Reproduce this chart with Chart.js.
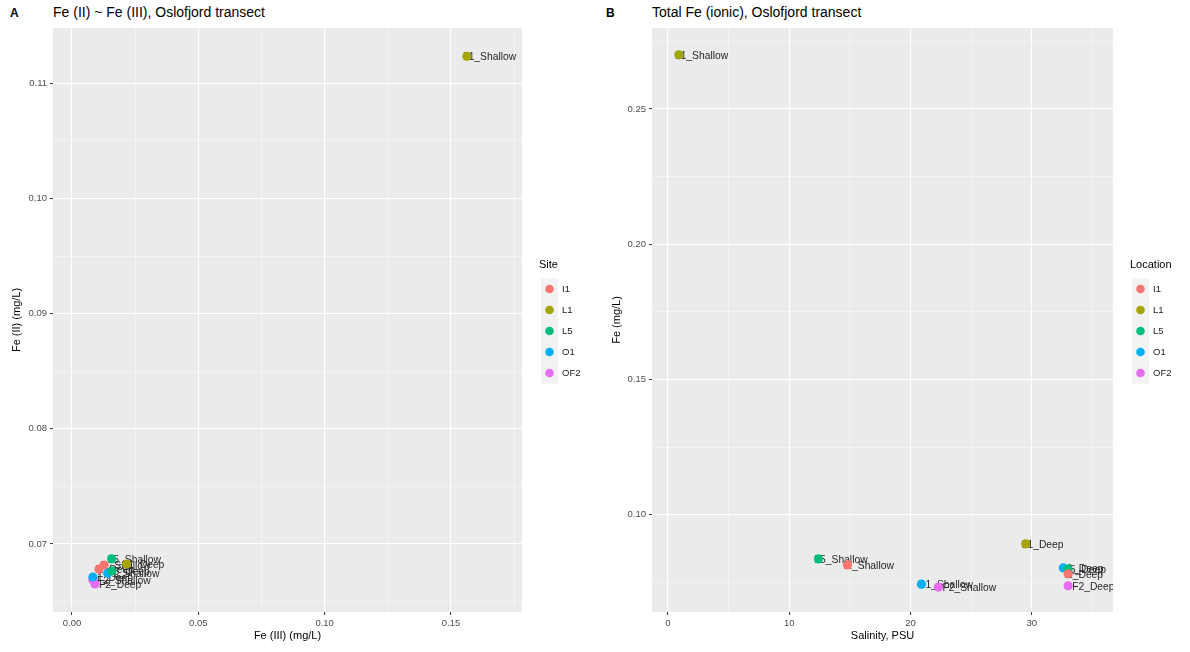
<!DOCTYPE html>
<html>
<head>
<meta charset="utf-8">
<script src="https://cdn.jsdelivr.net/npm/chart.js@4.4.1/dist/chart.umd.min.js"></script>
<style>
  html, body { margin: 0; padding: 0; background: #fff; }
  body { width: 1190px; height: 652px; position: relative; overflow: hidden; font-family: "Liberation Sans", Arial, sans-serif; }
  .panel { position: absolute; top: 0; height: 652px; }
  .tag { position: absolute; top: 6px; font-size: 12px; font-weight: bold; color: #000; }
  .title { position: absolute; top: 4px; font-size: 14px; color: #000; }
</style>
</head>
<body>
<div class="tag" style="left:10px">A</div>
<div class="title" style="left:53px">Fe (II) ~ Fe (III), Oslofjord transect</div>
<div class="tag" style="left:606px">B</div>
<div class="title" style="left:652px">Total Fe (ionic), Oslofjord transect</div>
<div class="panel" style="left:0;width:600px"><canvas id="chartA"></canvas></div>
<div class="panel" style="left:600px;width:590px"><canvas id="chartB"></canvas></div>
<script>
// sites and colours (ggplot hue palette)
const sites = ["I1", "L1", "L5", "O1", "OF2"];
const colors = ["#F8766D", "#A3A500", "#00BF7D", "#00B0F6", "#E76BF3"];
const depths = ["Shallow", "Deep"];

// panel A: Fe(III) vs Fe(II), per site [Shallow, Deep]
const fe3 = {
  I1: [0.0127, 0.0107],
  L1: [0.1563, 0.0216],
  L5: [0.0157, 0.0158],
  O1: [0.0142, 0.0083],
  OF2: [0.0083, 0.0091]
};
const fe2 = {
  I1: [0.06818, 0.06783],
  L1: [0.11234, 0.06826],
  L5: [0.06872, 0.06766],
  O1: [0.06748, 0.06714],
  OF2: [0.06688, 0.06653]
};

// panel B: salinity vs total Fe
const salinity = {
  I1: [14.8, 33.0],
  L1: [0.9, 29.5],
  L5: [12.4, 33.0],
  O1: [20.9, 32.6],
  OF2: [22.3, 33.0]
};
const feTotal = {
  I1: [0.0815, 0.0782],
  L1: [0.2700, 0.0893],
  L5: [0.0837, 0.0800],
  O1: [0.0744, 0.0804],
  OF2: [0.0733, 0.0738]
};

// tick values (major labelled, minor only grid)
const xMajorA = [0, 0.05, 0.10, 0.15];
const xMinorA = [0.025, 0.075, 0.125, 0.175];
const yMajorA = [0.07, 0.08, 0.09, 0.10, 0.11];
const yMinorA = [0.065, 0.075, 0.085, 0.095, 0.105];
const xMajorB = [0, 10, 20, 30];
const xMinorB = [5, 15, 25, 35];
const yMajorB = [0.10, 0.15, 0.20, 0.25];
const yMinorB = [0.075, 0.125, 0.175, 0.225, 0.275];

const FONT = "'Liberation Sans', Arial, sans-serif";

function makeDatasets(xs, ys) {
  return sites.map((s, i) => ({
    label: s,
    data: depths.map((d, j) => ({ x: xs[s][j], y: ys[s][j], name: s + "_" + d })),
    backgroundColor: colors[i],
    borderWidth: 0,
    pointRadius: 4.6,
    pointHoverRadius: 4.6
  }));
}

function isMajor(list, v) {
  return list.some(m => Math.abs(m - v) < 1e-9);
}

function axis(major, minor, min, max, fmt, title, size, isX) {
  return {
    type: "linear",
    min: min, max: max,
    afterBuildTicks: s => { s.ticks = major.concat(minor).sort((a, b) => a - b).map(v => ({ value: v })); },
    afterFit: s => { if (isX) s.height = size; else s.width = size; },
    border: { display: false },
    grid: {
      color: c => isMajor(major, c.tick.value) ? "#ffffff" : "rgba(255,255,255,0.75)",
      lineWidth: c => isMajor(major, c.tick.value) ? 1.1 : 0.55,
      tickColor: c => isMajor(major, c.tick.value) ? "#333333" : "rgba(0,0,0,0)",
      tickLength: 3,
      tickWidth: 1
    },
    ticks: {
      autoSkip: false,
      maxRotation: 0,
      padding: 3,
      color: "#4d4d4d",
      font: { family: FONT, size: 9.5 },
      callback: v => isMajor(major, v) ? fmt(v) : ""
    },
    title: {
      display: true, text: title, color: "#000",
      font: { family: FONT, size: 11 },
      padding: isX ? { top: 0, bottom: 5 } : { top: 10, bottom: 0 }
    }
  };
}

// grey panel background
const panelBg = {
  id: "panelBg",
  beforeDraw(chart) {
    const a = chart.chartArea, ctx = chart.ctx;
    ctx.save();
    ctx.fillStyle = "#EBEBEB";
    ctx.fillRect(a.left, a.top, a.right - a.left, a.bottom - a.top);
    ctx.restore();
  }
};

// point labels (geom_text), drawn under the points
const pointLabels = {
  id: "pointLabels",
  beforeDatasetsDraw(chart) {
    const a = chart.chartArea, ctx = chart.ctx;
    ctx.save();
    ctx.beginPath();
    ctx.rect(a.left, a.top, a.right - a.left, a.bottom - a.top);
    ctx.clip();
    ctx.font = "10.3px " + FONT;
    ctx.fillStyle = "#262626";
    ctx.textAlign = "left";
    ctx.textBaseline = "middle";
    chart.data.datasets.forEach((ds, i) => {
      chart.getDatasetMeta(i).data.forEach((pt, j) => {
        ctx.fillText(ds.data[j].name, pt.x - 4, pt.y + 1);
      });
    });
    ctx.restore();
  }
};

// ggplot style legend to the right of the panel
const sideLegend = {
  id: "sideLegend",
  afterDraw(chart, args, opts) {
    const a = chart.chartArea, ctx = chart.ctx;
    const n = chart.data.datasets.length;
    const keyH = 21, keyW = 17;
    const left = a.right + 19;
    const mid = (a.top + a.bottom) / 2;
    const total = 22 + n * keyH;
    const top = mid - total / 2;
    ctx.save();
    ctx.font = "11px " + FONT;
    ctx.fillStyle = "#000";
    ctx.textBaseline = "middle";
    ctx.fillText(opts.title, left - 2, top + 8);
    const keysTop = top + 22;
    ctx.fillStyle = "#F2F2F2";
    ctx.fillRect(left, keysTop, keyW, n * keyH);
    chart.data.datasets.forEach((ds, i) => {
      const cy = keysTop + keyH * i + keyH / 2;
      ctx.beginPath();
      ctx.fillStyle = ds.backgroundColor;
      ctx.arc(left + keyW / 2, cy, 4.3, 0, Math.PI * 2);
      ctx.fill();
      ctx.fillStyle = "#1a1a1a";
      ctx.font = "9.5px " + FONT;
      ctx.fillText(ds.label, left + keyW + 4, cy);
    });
    ctx.restore();
  }
};

function makeChart(id, datasets, xScale, yScale, legendTitle, padRight) {
  return new Chart(document.getElementById(id), {
    type: "scatter",
    data: { datasets: datasets },
    options: {
      responsive: true,
      maintainAspectRatio: false,
      animation: false,
      layout: { padding: { top: 28, right: padRight, bottom: 4, left: 0 } },
      plugins: {
        legend: { display: false },
        tooltip: { enabled: false },
        sideLegend: { title: legendTitle }
      },
      scales: { x: xScale, y: yScale }
    },
    plugins: [panelBg, pointLabels, sideLegend]
  });
}

makeChart("chartA", makeDatasets(fe3, fe2),
  axis(xMajorA, xMinorA, -0.0075, 0.1781, v => v.toFixed(2), "Fe (III) (mg/L)", 36, true),
  axis(yMajorA, yMinorA, 0.0641, 0.1148, v => v.toFixed(2), "Fe (II) (mg/L)", 53, false),
  "Site", 78);

makeChart("chartB", makeDatasets(salinity, feTotal),
  axis(xMajorB, xMinorB, -1.32, 36.7, v => String(v), "Salinity, PSU", 36, true),
  axis(yMajorB, yMinorB, 0.0641, 0.2799, v => v.toFixed(2), "Fe (mg/L)", 52, false),
  "Location", 77);
</script>
</body>
</html>
